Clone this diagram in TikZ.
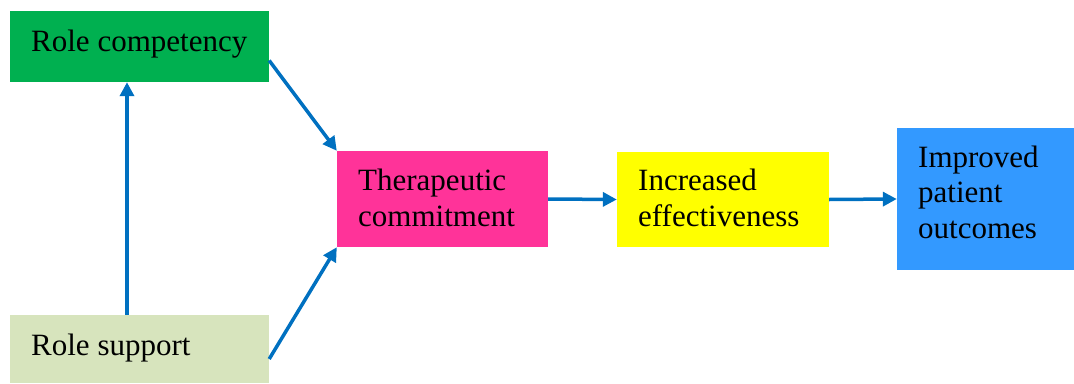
\documentclass[tikz,border=0pt]{standalone}
\usepackage{fontspec}
\setmainfont{Liberation Serif}
\usetikzlibrary{arrows.meta}
\definecolor{compgreen}{HTML}{00B050}
\definecolor{supportgreen}{HTML}{D7E4BD}
\definecolor{commitpink}{HTML}{FF3399}
\definecolor{effyellow}{HTML}{FFFF00}
\definecolor{outblue}{HTML}{3399FF}
\definecolor{arrowblue}{HTML}{0070C0}
\begin{document}
\begin{tikzpicture}[x=1pt,y=-1pt,
  box/.style={draw=none,inner sep=0pt},
  lbl/.style={anchor=base west,inner sep=0pt,align=left,
    font=\fontsize{31}{35.5}\selectfont},
  link/.style={draw=arrowblue,line width=3.5pt,
    -{Triangle[length=14pt,width=14pt]}}]
  \useasboundingbox (0,0) rectangle (1074,383);
  % boxes
  \fill[compgreen] (10,11) rectangle (269,82);
  \node[box,minimum width=259pt,minimum height=71pt] (comp) at (139.5,46.5) {};
  \fill[supportgreen] (10,315) rectangle (269,383);
  \node[box,minimum width=259pt,minimum height=68pt] (supp) at (139.5,349) {};
  \fill[commitpink] (337,151) rectangle (548,247);
  \node[box,minimum width=211pt,minimum height=96pt] (commit) at (442.5,199) {};
  \fill[effyellow] (617,152) rectangle (829,247);
  \node[box,minimum width=212pt,minimum height=95pt] (eff) at (723,199.5) {};
  \fill[outblue] (897,128) rectangle (1074,270);
  \node[box,minimum width=177pt,minimum height=142pt] (out) at (985.5,199) {};
  % labels (base anchor sits on the last line)
  \node[lbl] (compt) at (31,51) {Role competency};
  \node[lbl] (suppt) at (31,355) {Role support};
  \node[lbl] (committ) at (358,226) {Therapeutic\\commitment};
  \node[lbl] (efft) at (638,226) {Increased\\effectiveness};
  \node[lbl] (outt) at (918,238) {Improved\\patient\\outcomes};
  % connectors
  \draw[link] (supp.north -| 127,0) -- (comp.south -| 127,0);
  \draw[link] ([yshift=-14pt]comp.east) -- (commit.north west);
  \draw[link] ([yshift=-10pt]supp.east) -- (commit.south west);
  \draw[link] (commit.east) -- (eff.west);
  \draw[link] (eff.east) -- (out.west);
\end{tikzpicture}
\end{document}
